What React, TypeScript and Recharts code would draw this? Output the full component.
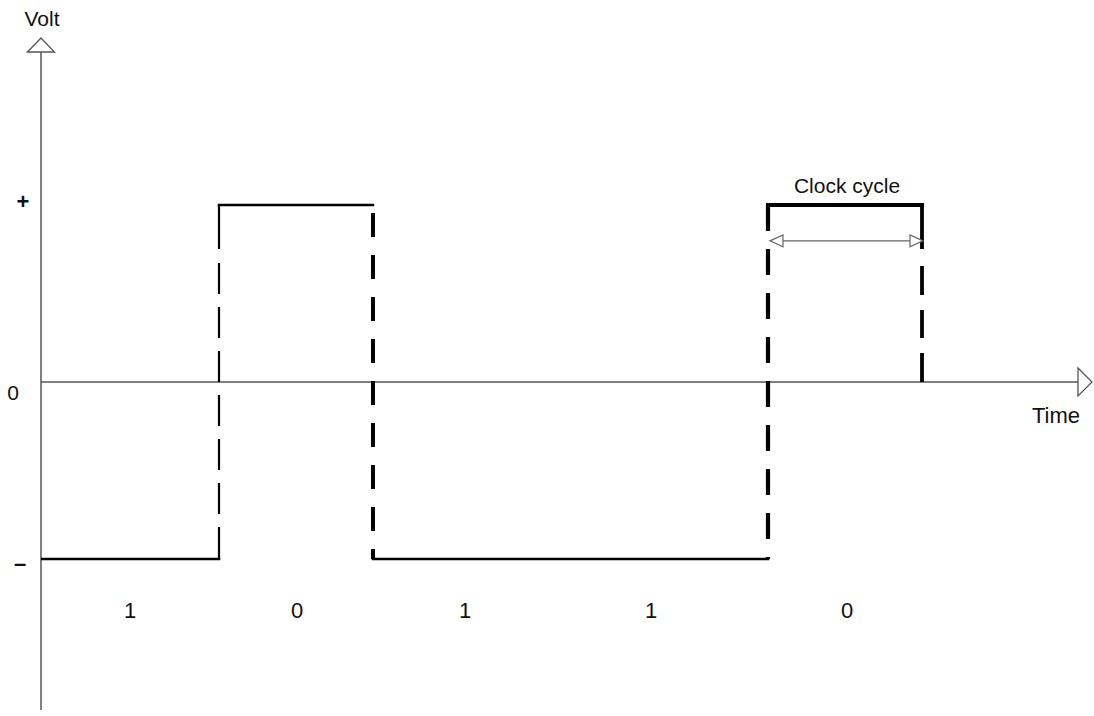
import React from 'react';
import { ComposedChart, Line, XAxis, YAxis, ReferenceLine, ReferenceDot, Scatter } from 'recharts';

// time of each level change (first entry = start of the trace)
const edgeTimes = [0, 178, 332, 727, 881];
// voltage level held between consecutive edges
const levels = [-1, 1, -1, 1];
// level the trace returns to after the final edge
const finalLevel = 0;

// bit values written under the trace and the time of each bit centre
const bits = ['1', '0', '1', '1', '0'];
const bitTimes = [89, 256, 424, 610, 806];

// y-axis tick labels
const levelTicks = [1, 0, -1];
const levelNames: Record<number, string> = { 1: '+', 0: '0', '-1': '\u2013' };

// clock cycle marker (between the last two edges)
const clockStart = 729;
const clockEnd = 882;
const clockLevel = 0.797;

const X_MAX = 1053;
const Y_MIN = -1.853;
const Y_MAX = 1.943;
const AXIS_END = 1037;
const Y_AXIS_TOP = 1.864;

const FONT = '"Liberation Sans", Arial, sans-serif';
const AXIS_COLOR = '#555';

const hStyles = [
  { w: 2.5 },
  { w: 2.5 },
  { w: 2.5 },
  { w: 4 },
];
const vStyles = [
  { w: 2.2, dash: '44 14 31 13 31 13 31 13 31 13 31 13 31 13', off: 0 },
  { w: 4, dash: '24 18', off: 34 },
  { w: 4.2, dash: '26 18', off: 0 },
  { w: 3.8, dash: '44 17 29 15 28 15 30', off: 0 },
];

const horizontals = levels.map((lv, i) => [
  { t: edgeTimes[i], v: lv },
  { t: edgeTimes[i + 1], v: lv },
]);

const verticals = edgeTimes.slice(1).map((t, i) => {
  const from = levels[i];
  const to = i + 1 < levels.length ? levels[i + 1] : finalLevel;
  // draw from the top down so dash pattern starts at the high corner
  const hi = Math.max(from, to);
  const lo = Math.min(from, to);
  return [
    { t, v: hi },
    { t, v: lo },
  ];
});

const bitData = bits.map((b, i) => ({ t: bitTimes[i], v: -1.336, label: b }));

const LevelTick = (props: any) => {
  const { y, payload } = props;
  const val = payload.value;
  const dy = val === 0 ? 18 : val === 1 ? 4 : 12;
  return (
    <text
      x={val === 1 ? 23 : val === 0 ? 13 : 20}
      y={y + dy}
      textAnchor="middle"
      fontFamily={FONT}
      fontSize={val === 0 ? 21 : 22}
      fontWeight={val === 0 ? 'normal' : 'bold'}
      fill="#111"
    >
      {levelNames[val]}
    </text>
  );
};

const upArrow = (p: any) => (
  <polygon
    points={`${p.cx - 13.5},${p.cy} ${p.cx},${p.cy - 14} ${p.cx + 13.5},${p.cy}`}
    fill="#fff"
    stroke={AXIS_COLOR}
    strokeWidth={1.3}
  />
);

const rightArrow = (p: any) => (
  <polygon
    points={`${p.cx},${p.cy - 14} ${p.cx + 14},${p.cy} ${p.cx},${p.cy + 14}`}
    fill="#fff"
    stroke={AXIS_COLOR}
    strokeWidth={1.3}
  />
);

const smallLeft = (p: any) => (
  <polygon
    points={`${p.cx},${p.cy} ${p.cx + 13},${p.cy - 6} ${p.cx + 13},${p.cy + 6}`}
    fill="#fff"
    stroke="#666"
    strokeWidth={1.2}
  />
);

const smallRight = (p: any) => (
  <polygon
    points={`${p.cx},${p.cy} ${p.cx - 13},${p.cy - 6} ${p.cx - 13},${p.cy + 6}`}
    fill="#fff"
    stroke="#666"
    strokeWidth={1.2}
  />
);

const textShape = (label: string, size = 21) => (p: any) => (
  <text x={p.cx} y={p.cy} textAnchor="middle" fontFamily={FONT} fontSize={size} fill="#111">
    {label}
  </text>
);

const BitLabel = (p: any) => (
  <text x={p.cx} y={p.cy} textAnchor="middle" fontFamily={FONT} fontSize={22} fill="#111">
    {p.payload.label}
  </text>
);

export default function App() {
  return (
    <div style={{ position: 'absolute', left: 0, top: 0, background: '#fff' }}>
      <ComposedChart width={1094} height={716} margin={{ top: 38, right: 0, bottom: 6, left: 0 }}>
        <XAxis type="number" dataKey="t" domain={[0, X_MAX]} hide allowDataOverflow />
        <YAxis
          type="number"
          dataKey="v"
          domain={[Y_MIN, Y_MAX]}
          width={41}
          ticks={levelTicks}
          axisLine={false}
          tickLine={false}
          tick={<LevelTick />}
          allowDataOverflow
        />

        {/* axes */}
        <ReferenceLine
          segment={[{ x: 0, y: Y_MIN }, { x: 0, y: Y_AXIS_TOP }]}
          stroke={AXIS_COLOR}
          strokeWidth={1.5}
        />
        <ReferenceLine
          segment={[{ x: 0, y: 0 }, { x: AXIS_END, y: 0 }]}
          stroke={AXIS_COLOR}
          strokeWidth={1.5}
        />
        <ReferenceDot x={0} y={Y_AXIS_TOP} r={1} shape={upArrow} ifOverflow="visible" />
        <ReferenceDot x={AXIS_END} y={0} r={1} shape={rightArrow} ifOverflow="visible" />

        {/* signal */}
        {horizontals.map((seg, i) => (
          <Line
            key={`h${i}`}
            data={seg}
            dataKey="v"
            type="linear"
            stroke="#000"
            strokeWidth={hStyles[i].w}
            strokeLinecap="square"
            dot={false}
            activeDot={false}
            isAnimationActive={false}
          />
        ))}
        {verticals.map((seg, i) => (
          <Line
            key={`v${i}`}
            data={seg}
            dataKey="v"
            type="linear"
            stroke="#000"
            strokeWidth={vStyles[i].w}
            strokeDasharray={vStyles[i].dash}
            strokeDashoffset={vStyles[i].off}
            dot={false}
            activeDot={false}
            isAnimationActive={false}
          />
        ))}

        {/* clock cycle marker */}
        <Line
          data={[
            { t: clockStart + 12, v: clockLevel },
            { t: clockEnd - 12, v: clockLevel },
          ]}
          dataKey="v"
          stroke="#666"
          strokeWidth={1.4}
          dot={false}
          activeDot={false}
          isAnimationActive={false}
        />
        <ReferenceDot x={clockStart} y={clockLevel} r={1} shape={smallLeft} />
        <ReferenceDot x={clockEnd} y={clockLevel} r={1} shape={smallRight} />

        {/* bit labels */}
        <Scatter data={bitData} dataKey="v" shape={<BitLabel />} isAnimationActive={false} />

        {/* text labels */}
        <ReferenceDot x={1} y={2.011} r={1} shape={textShape('Volt')} ifOverflow="visible" />
        <ReferenceDot x={1015} y={-0.2316} r={1} shape={textShape('Time', 22)} ifOverflow="visible" />
        <ReferenceDot x={806} y={1.068} r={1} shape={textShape('Clock cycle')} ifOverflow="visible" />
      </ComposedChart>
    </div>
  );
}
